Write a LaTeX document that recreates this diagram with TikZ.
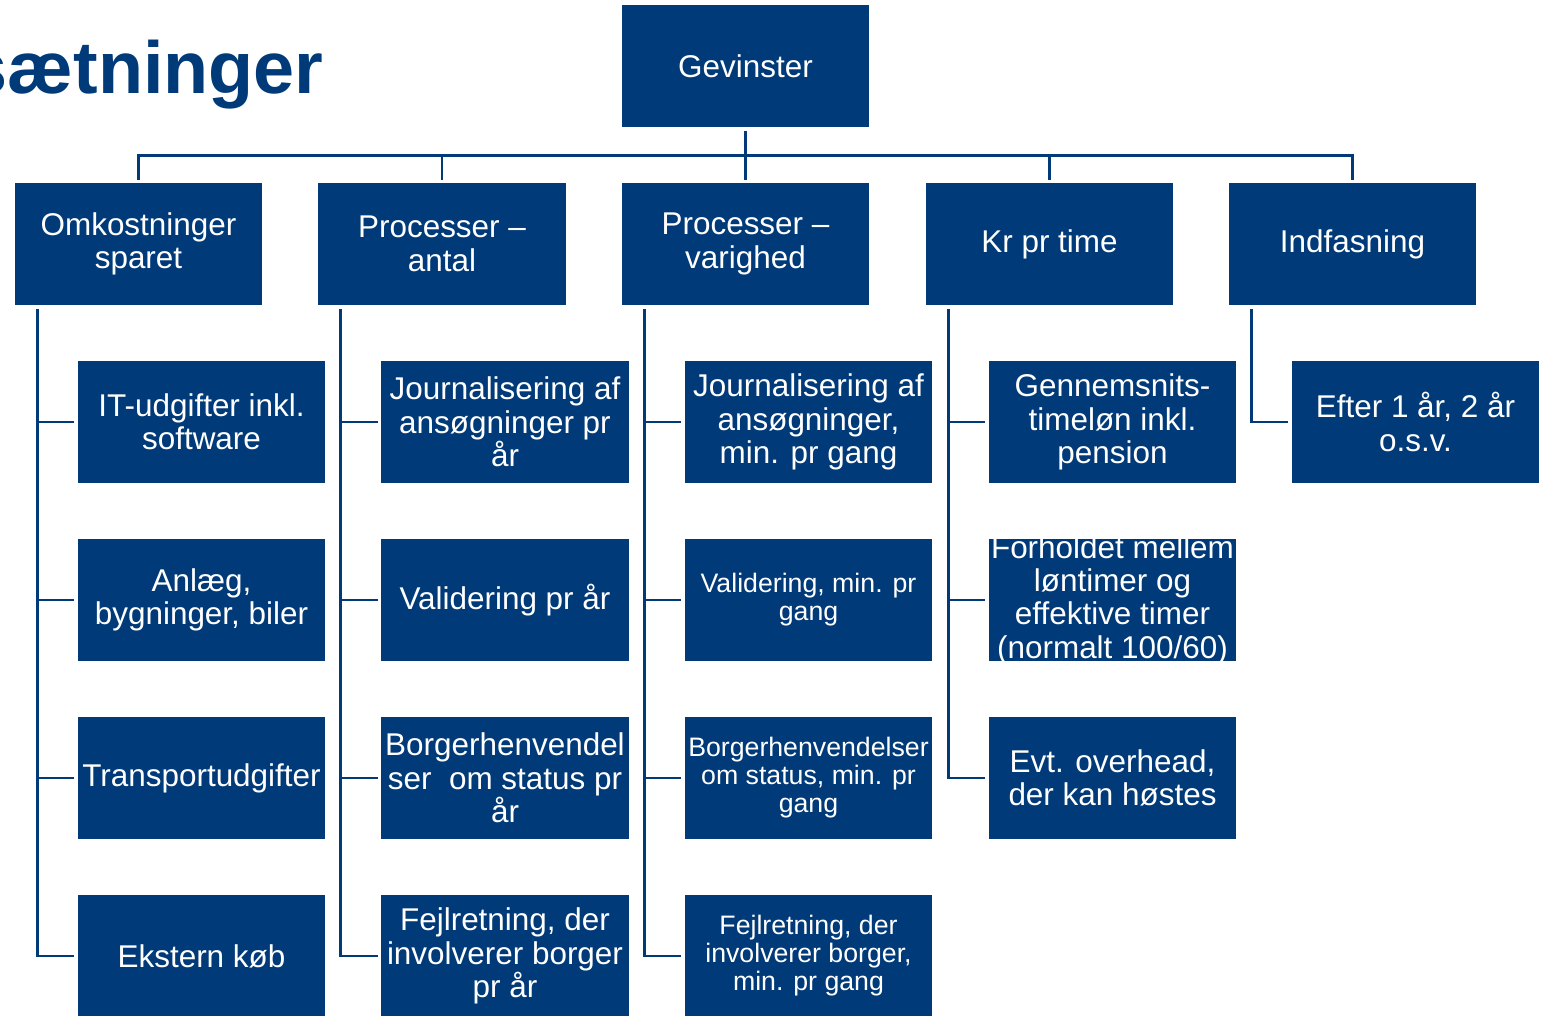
\documentclass[tikz,border=0pt]{standalone}
\usepackage{fontspec}
\setmainfont{Liberation Sans}
\usepackage{tikz}
\definecolor{navy}{RGB}{0,58,120}

\begin{document}
\begin{tikzpicture}
                [
                x=0.02cm, y=-0.02cm,
                box/.style={rectangle,fill=navy,text=white,align=center,inner sep=1pt,
                            minimum width=4.96cm,minimum height=2.44cm,
                            font=\fontsize{17.9}{19}\selectfont},
                smalltext/.style={font=\fontsize{15.2}{15.9}\selectfont},
                link/.style={draw=navy,line width=1.7pt,shorten <=0.08cm,shorten >=0.06cm}
                ]
            \useasboundingbox (0,0) rectangle (1555,1016);
            \clip (0,0) rectangle (1555,1016);
            \node[anchor=base east,inner sep=0pt,text=navy,
                  font=\bfseries\fontsize{42}{50}\selectfont] (title) at (324,94) {sætninger};
            % top and first level
            \node[box] (g) at (745.5,66) {Gevinster};
            \node[box] (a) at (138.5,244) {Omkostninger\\sparet};
            \node[box] (b) at (442,244) {Processer –\\antal};
            \node[box] (c) at (745.5,244) {Processer –\\varighed};
            \node[box] (d) at (1049.5,244) {Kr pr time};
            \node[box] (e) at (1352.5,244) {Indfasning};
            % second level
            \node[box] (a1) at (201.5,422) {IT-udgifter inkl.\\software};
            \node[box] (a2) at (201.5,600) {Anlæg,\\bygninger, biler};
            \node[box] (a3) at (201.5,778) {Transportudgifter};
            \node[box] (a4) at (201.5,956) {Ekstern køb};
            \node[box] (b1) at (505,422) {Journalisering af\\ansøgninger pr\\år};
            \node[box] (b2) at (505,600) {Validering pr år};
            \node[box] (b3) at (505,778) {Borgerhenvendel\\ser\ \ om status pr\\år};
            \node[box] (b4) at (505,956) {Fejlretning, der\\involverer borger\\pr år};
            \node[box] (c1) at (808.5,422) {Journalisering af\\ansøgninger,\\min. pr gang};
            \node[box,smalltext] (c2) at (808.5,600) {Validering, min. pr\\gang};
            \node[box,smalltext] (c3) at (808.5,778) {Borgerhenvendelser\\om status, min. pr\\gang};
            \node[box,smalltext] (c4) at (808.5,956) {Fejlretning, der\\involverer borger,\\min. pr gang};
            \node[box] (d1) at (1112.5,422) {Gennemsnits-\\timeløn inkl.\\pension};
            \node[box,inner ysep=-0.1cm] (d2) at (1112.5,600) {Forholdet mellem\\løntimer og\\effektive timer\\(normalt 100/60)};
            \node[box] (d3) at (1112.5,778) {Evt. overhead,\\der kan høstes};
            \node[box] (e1) at (1415.5,422) {Efter 1 år, 2 år\\o.s.v.};
            % connectors
            \draw[link] (g.south) -- (c.north);
            \draw[link] (g.south) -- ++(0,28) -| (a.north);
            \draw[link] (g.south) -- ++(0,28) -| (b.north);
            \draw[link] (g.south) -- ++(0,28) -| (d.north);
            \draw[link] (g.south) -- ++(0,28) -| (e.north);
            \draw[link] ([xshift=0.46cm]a.south west) |- (a1.west);
            \draw[link] ([xshift=0.46cm]a.south west) |- (a2.west);
            \draw[link] ([xshift=0.46cm]a.south west) |- (a3.west);
            \draw[link] ([xshift=0.46cm]a.south west) |- (a4.west);
            \draw[link] ([xshift=0.46cm]b.south west) |- (b1.west);
            \draw[link] ([xshift=0.46cm]b.south west) |- (b2.west);
            \draw[link] ([xshift=0.46cm]b.south west) |- (b3.west);
            \draw[link] ([xshift=0.46cm]b.south west) |- (b4.west);
            \draw[link] ([xshift=0.46cm]c.south west) |- (c1.west);
            \draw[link] ([xshift=0.46cm]c.south west) |- (c2.west);
            \draw[link] ([xshift=0.46cm]c.south west) |- (c3.west);
            \draw[link] ([xshift=0.46cm]c.south west) |- (c4.west);
            \draw[link] ([xshift=0.46cm]d.south west) |- (d1.west);
            \draw[link] ([xshift=0.46cm]d.south west) |- (d2.west);
            \draw[link] ([xshift=0.46cm]d.south west) |- (d3.west);
            \draw[link] ([xshift=0.46cm]e.south west) |- (e1.west);
            \end{tikzpicture}
\end{document}
